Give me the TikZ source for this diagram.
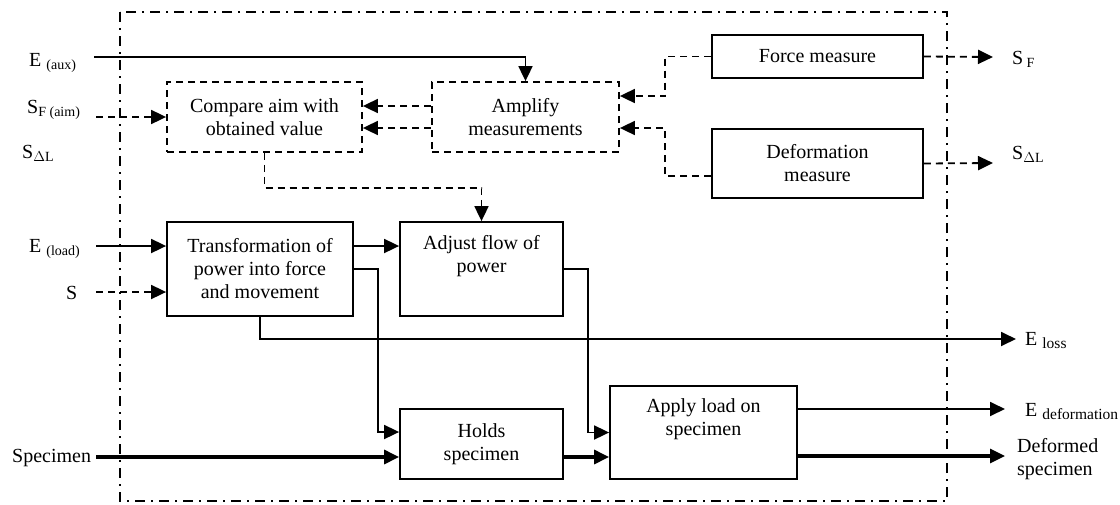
\documentclass[tikz,border=0pt]{standalone}
\usepackage{fontspec}
\setmainfont{Liberation Serif}
\usetikzlibrary{arrows.meta}
\newcommand{\lsub}[1]{\raisebox{-3pt}{\fontsize{14}{14}\selectfont #1}}
\newcommand{\rsub}[1]{\raisebox{-3pt}{\fontsize{15.5}{15.5}\selectfont #1}}
\begin{document}
\begin{tikzpicture}[x=1pt,y=-1pt,
  every node/.style={font=\fontsize{20}{23}\selectfont},
  box/.style={draw,line width=1.8pt,align=center,inner sep=0pt},
  dbox/.style={box,dash pattern=on 7pt off 5pt},
  conn/.style={line width=1.8pt},
  dsh/.style={conn,dash pattern=on 7pt off 5pt},
  thk/.style={line width=3.2pt},
  arr/.style={-{Triangle[length=15pt,width=14pt]}},
  frame/.style={line width=2.3pt,dash pattern=on 10pt off 6pt on 2pt off 6pt},
  lab/.style={inner sep=0pt}
]
\useasboundingbox (0,0) rectangle (1120,504);
\draw[frame] (120,12) rectangle (947,501);

% boxes
\node[dbox,minimum width=195pt,minimum height=70pt] (cmp) at (264.5,117) {Compare aim with\\obtained value};
\node[dbox,minimum width=187pt,minimum height=70pt] (amp) at (525.5,117) {Amplify\\measurements};
\node[box,minimum width=211pt,minimum height=43pt] (frc) at (817.5,56.5) {Force measure};
\node[box,minimum width=211pt,minimum height=69pt] (dfm) at (817.5,163.5) {Deformation\\measure};
\node[box,minimum width=186pt,minimum height=94pt] (trf) at (260,269) {Transformation of\\power into force\\and movement};
\node[box,minimum width=163pt,minimum height=94pt] (adj) at (481.5,269) {Adjust flow of\\power\\\strut};
\node[box,minimum width=163pt,minimum height=70pt] (hld) at (481.5,444) {Holds\\specimen};
\node[box,minimum width=187pt,minimum height=93pt] (apl) at (703.5,432.5) {Apply load on\\specimen\\\strut};

% left labels
\node[lab,anchor=base west] (leaux) at (29,66) {E \lsub{(aux)}};
\node[lab,anchor=base west] (lsfaim) at (27,113) {S\lsub{F (aim)}};
\node[lab,anchor=base west] (lsdl) at (22,158) {S\lsub{$\Delta$L}};
\node[lab,anchor=base west] (leload) at (29,252) {E \lsub{(load)}};
\node[lab,anchor=base west] (ls) at (66,299) {S};
\node[lab,anchor=base west] (lspec) at (12,462) {Specimen};

% right labels
\node[lab,anchor=base west] (rsf) at (1012,64) {S\,\lsub{F}};
\node[lab,anchor=base west] (rsdl) at (1012,159) {S\lsub{$\Delta$L}};
\node[lab,anchor=base west] (reloss) at (1025,345) {E \rsub{loss}};
\node[lab,anchor=base west] (redef) at (1025,416) {E \rsub{deformation}};
\node[lab,anchor=north west,align=left] (rdefspec) at (1017,438) {Deformed\\specimen};

% free ends
\coordinate (ineaux) at (94,57);
\coordinate (insfaim) at (96,117);
\coordinate (ineload) at (96,246);
\coordinate (ins) at (96,292);
\coordinate (inspec) at (96,457);
\coordinate (outsf) at (993,57);
\coordinate (outsdl) at (993,163);
\coordinate (outloss) at (1016,339);
\coordinate (outedef) at (1005,409);
\coordinate (outdspec) at (1005,456);

% connectors top
\draw[conn,arr] (ineaux) -| (amp.north);
\draw[dsh,arr] (insfaim) -- (cmp.west);
\draw[dsh,arr] ([yshift=11pt]amp.west) -- ([yshift=11pt]cmp.east);
\draw[dsh,arr] ([yshift=-11pt]amp.west) -- ([yshift=-11pt]cmp.east);
\draw[dsh,arr] (frc.west) -- ++(-46,0) |- ([yshift=21pt]amp.east);
\draw[dsh,arr] ([yshift=-12.5pt]dfm.west) -- ++(-46,0) |- ([yshift=-11pt]amp.east);
\draw[dsh,arr] (frc.east) -- (outsf);
\draw[dsh,arr] (dfm.east) -- (outsdl);
\draw[dsh,arr] (cmp.south) -- ++(0,35) -| (adj.north);

% connectors middle
\draw[conn,arr] (ineload) -- ([yshift=23pt]trf.west);
\draw[dsh,arr] (ins) -- ([yshift=-23pt]trf.west);
\draw[conn,arr] ([yshift=23pt]trf.east) -- ([yshift=23pt]adj.west);
\draw[conn,arr] (trf.east) -- ++(24,0) |- ([yshift=12pt]hld.west);
\draw[conn,arr] (trf.south) |- (outloss);
\draw[conn,arr] (adj.east) -- ++(24,0) |- (apl.west);

% bottom
\draw[thk,arr] (inspec) -- ([yshift=-13pt]hld.west);
\draw[thk,arr] ([yshift=-13pt]hld.east) -- ([yshift=-24.5pt]apl.west);
\draw[conn,arr] ([yshift=23.5pt]apl.east) -- (outedef);
\draw[thk,arr] ([yshift=-23.5pt]apl.east) -- (outdspec);
\end{tikzpicture}
\end{document}
